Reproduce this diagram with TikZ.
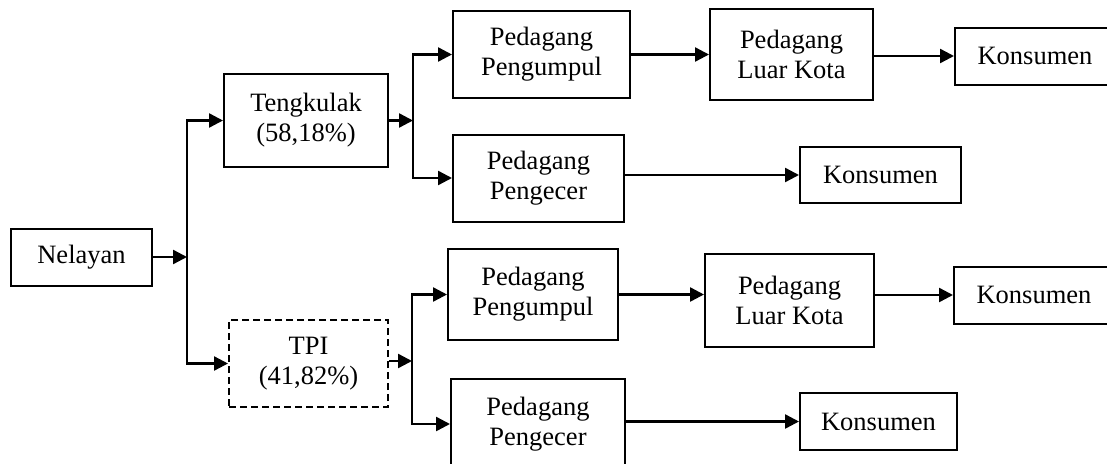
\documentclass[tikz,border=0pt]{standalone}
\usepackage{fontspec}
\setmainfont{Liberation Serif}
\usetikzlibrary{arrows.meta}
\begin{document}
\begin{tikzpicture}[x=1pt,y=-1pt,
    box/.style={draw,line width=2pt,align=center,inner sep=0pt,font=\fontsize{26.5}{30}\selectfont},
    arr/.style={-{Triangle[length=14pt,width=14pt]},line width=2.4pt}]
  \useasboundingbox (0,0) rectangle (1107,463);
  \node[box,minimum width=141pt,minimum height=57pt] (nelayan) at (81.5,257) {Nelayan};
  \node[box,minimum width=164pt,minimum height=93pt] (tengkulak) at (306,120.5) {Tengkulak\\(58,18\%)};
  \node[box,dash pattern=on 7pt off 4pt,minimum width=159pt,minimum height=87pt] (tpi) at (308.5,363.5) {TPI\\(41,82\%)};
  % jalur tengkulak
  \node[box,minimum width=177pt,minimum height=87pt] (pengumpulA) at (541.5,54.5) {Pedagang\\Pengumpul};
  \node[box,minimum width=171pt,minimum height=87pt] (pengecerA) at (538.5,178) {Pedagang\\Pengecer};
  \node[box,minimum width=163pt,minimum height=91pt] (luarkotaA) at (791.5,54.5) {Pedagang\\Luar Kota};
  \node[box,minimum width=160pt,minimum height=57pt] (konsumenA) at (1035,56) {Konsumen};
  \node[box,minimum width=161pt,minimum height=56pt] (konsumenB) at (880.5,175) {Konsumen};
  % jalur TPI
  \node[box,minimum width=170pt,minimum height=91pt] (pengumpulB) at (533,294.5) {Pedagang\\Pengumpul};
  \node[box,minimum width=174pt,minimum height=90pt] (pengecerB) at (538,424) {Pedagang\\Pengecer};
  \node[box,minimum width=169pt,minimum height=93pt] (luarkotaB) at (789.5,300.5) {Pedagang\\Luar Kota};
  \node[box,minimum width=160pt,minimum height=57pt] (konsumenC) at (1034,295) {Konsumen};
  \node[box,minimum width=157pt,minimum height=57pt] (konsumenD) at (878.5,421.5) {Konsumen};
  \coordinate (j1) at (187,257);
  \coordinate (j2) at (413,120.5);
  \coordinate (j3) at (412,361);
  \draw[arr] (nelayan.east) -- (j1);
  \draw[arr] (j1) |- (tengkulak.west);
  \draw[arr] (j1) |- (tpi.west);
  \draw[arr] (tengkulak.east) -- (j2);
  \draw[arr] (j2) |- (pengumpulA.west);
  \draw[arr] (j2) |- (pengecerA.west);
  \draw[arr] (tpi.east |- j3) -- (j3);
  \draw[arr] (j3) |- (pengumpulB.west);
  \draw[arr] (j3) |- (pengecerB.west);
  \draw[arr] (pengumpulA.east) -- (luarkotaA.west);
  \draw[arr] (luarkotaA.east |- konsumenA) -- (konsumenA.west);
  \draw[arr] (pengecerA.east |- konsumenB) -- (konsumenB.west);
  \draw[arr] (pengumpulB.east) -- (pengumpulB.east -| luarkotaB.west);
  \draw[arr] (luarkotaB.east |- konsumenC) -- (konsumenC.west);
  \draw[arr] (pengecerB.east |- konsumenD) -- (konsumenD.west);
\end{tikzpicture}
\end{document}
